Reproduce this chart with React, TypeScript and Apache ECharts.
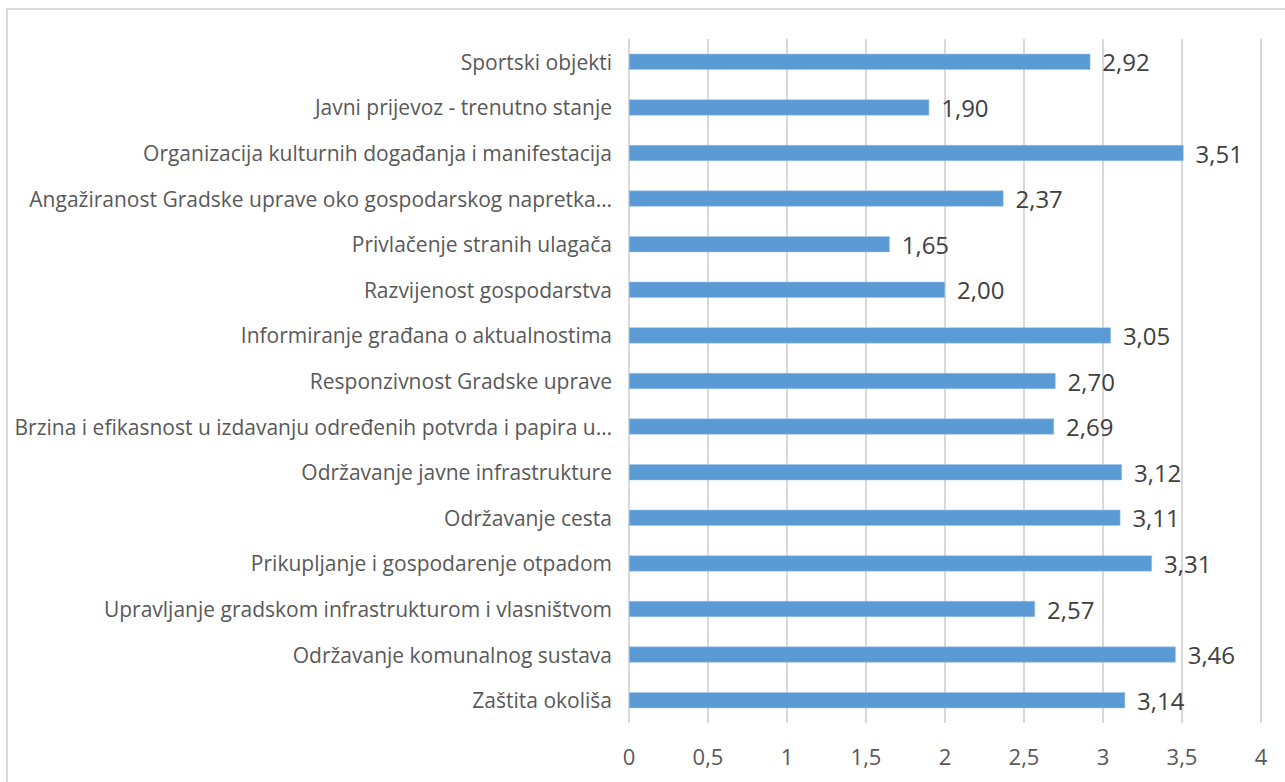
import React, { useEffect, useRef } from "react";
import * as echarts from "echarts";

const categories = [
  "Sportski objekti",
  "Javni prijevoz - trenutno stanje",
  "Organizacija kulturnih događanja i manifestacija",
  "Angažiranost Gradske uprave oko gospodarskog napretka…",
  "Privlačenje stranih ulagača",
  "Razvijenost gospodarstva",
  "Informiranje građana o aktualnostima",
  "Responzivnost Gradske uprave",
  "Brzina i efikasnost u izdavanju određenih potvrda i papira u…",
  "Održavanje javne infrastrukture",
  "Održavanje cesta",
  "Prikupljanje i gospodarenje otpadom",
  "Upravljanje gradskom infrastrukturom i vlasništvom",
  "Održavanje komunalnog sustava",
  "Zaštita okoliša",
];

const values = [2.92, 1.9, 3.51, 2.37, 1.65, 2.0, 3.05, 2.7, 2.69, 3.12, 3.11, 3.31, 2.57, 3.46, 3.14];

const xTicks = { min: 0, max: 4, interval: 0.5 };

const fmt = (v: number, d: number) => v.toFixed(d).replace(".", ",");

export default function App() {
  const ref = useRef<HTMLDivElement>(null);
  useEffect(() => {
    const chart = echarts.init(ref.current!, null, { renderer: "svg" });
    chart.setOption({
      animation: false,
      backgroundColor: "#ffffff",
      textStyle: { fontFamily: "Open Sans" },
      graphic: [
        {
          type: "rect",
          shape: { x: 7, y: 9, width: 1300, height: 800 },
          style: { fill: "none", stroke: "#d9d9d9", lineWidth: 2 },
          silent: true,
        },
      ],
      grid: { left: 629, right: 24, top: 39, bottom: 59, containLabel: false },
      xAxis: {
        type: "value",
        min: xTicks.min,
        max: xTicks.max,
        interval: xTicks.interval,
        axisLine: { show: false },
        axisTick: { show: false },
        splitLine: { show: true, lineStyle: { color: "#d9d9d9", width: 2 } },
        axisLabel: {
          color: "#595959",
          fontSize: 22,
          margin: 22,
          fontFamily: "Open Sans",
          formatter: (v: number) => String(v).replace(".", ","),
        },
      },
      yAxis: {
        type: "category",
        data: categories,
        inverse: true,
        axisLine: { show: false },
        axisTick: { show: false },
        splitLine: { show: false },
        axisLabel: {
          color: "#595959",
          fontSize: 21,
          margin: 17,
          fontFamily: "Open Sans",
        },
      },
      series: [
        {
          type: "bar",
          data: values,
          barWidth: 16,
          itemStyle: { color: "#5b9bd5", borderColor: "#9dc3e6", borderWidth: 0.5 },
          label: {
            show: true,
            position: "right",
            distance: 12,
            color: "#404040",
            fontSize: 24,
            fontFamily: "Open Sans",
            formatter: (p: any) => fmt(p.value, 2),
          },
        },
      ],
    });
    return () => chart.dispose();
  }, []);
  return (
    <div
      ref={ref}
      style={{ position: "absolute", left: 0, top: 0, width: 1285, height: 782 }}
    />
  );
}
